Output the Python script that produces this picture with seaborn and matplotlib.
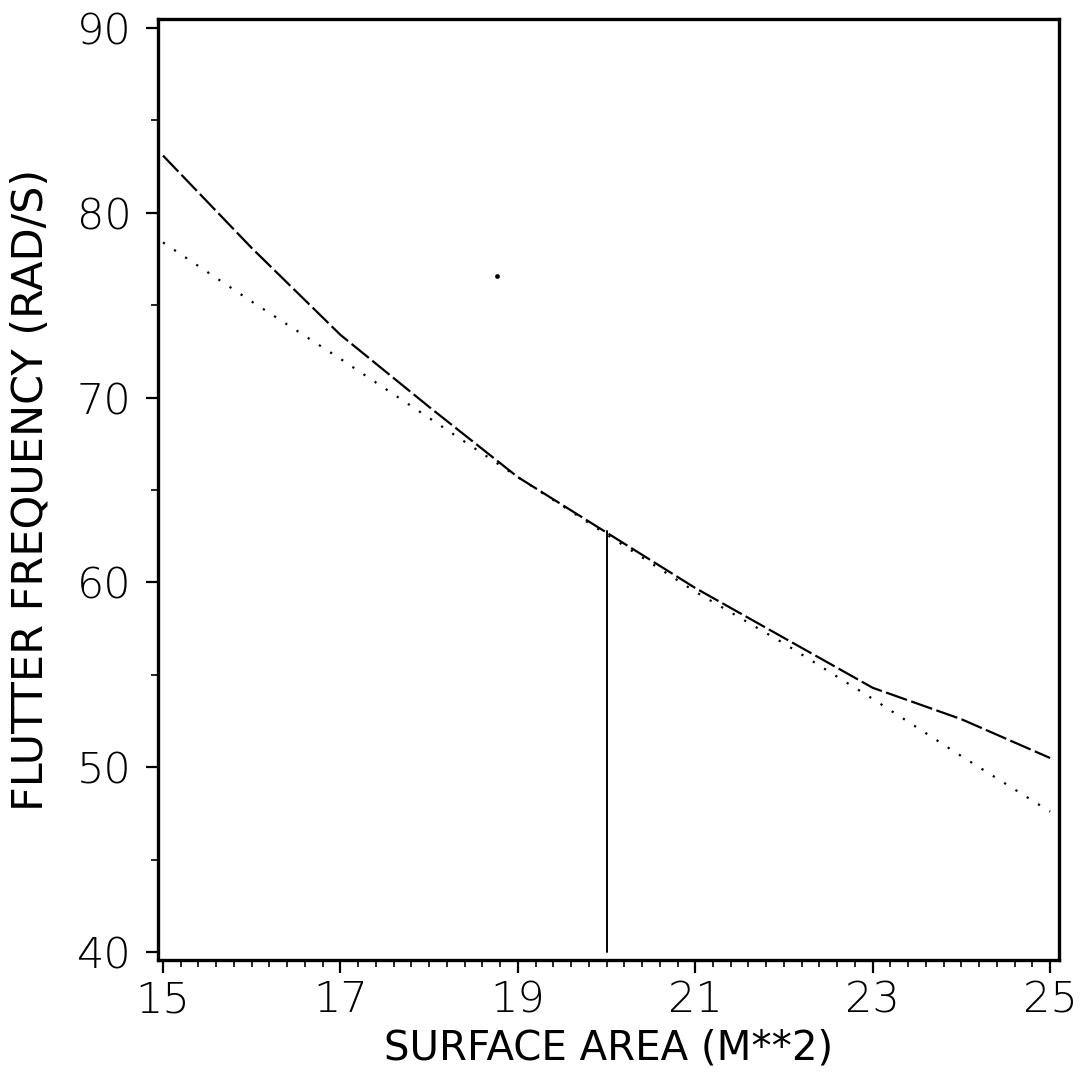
import matplotlib
matplotlib.use("Agg")
import matplotlib.pyplot as plt
import seaborn as sns
import pandas as pd
from matplotlib.ticker import MultipleLocator

# data
surface_area = [15, 16, 17, 18, 19, 20, 21, 22, 23, 24, 25]
freq_dashed = [83.1, 78.1, 73.4, 69.5, 65.7, 62.7, 59.7, 57.0, 54.3, 52.6, 50.5]
freq_dotted = [78.4, 75.2, 72.1, 68.9, 65.7, 62.6, 59.5, 56.7, 53.7, 50.6, 47.6]
marker_x = [20, 20]
marker_y = [40, 62.8]
stray_x = [18.77]
stray_y = [76.6]
x_ticks = [15, 17, 19, 21, 23, 25]
y_ticks = [40, 50, 60, 70, 80, 90]

sns.set_theme(style="white")
plt.rcParams['font.family'] = ['DejaVu Sans']
plt.rcParams['text.color'] = 'black'
plt.rcParams['axes.labelcolor'] = 'black'
plt.rcParams['xtick.color'] = 'black'
plt.rcParams['ytick.color'] = 'black'

df = pd.DataFrame({"area": surface_area, "dashed": freq_dashed, "dotted": freq_dotted})

fig = plt.figure(figsize=(10.84, 10.78), dpi=100)
ax = fig.add_axes([158/1084, 1 - 960/1078, (1059-158)/1084, (960-19)/1078])

sns.lineplot(data=df, x="area", y="dashed", ax=ax, color="black", lw=1.6,
             linestyle=(0, (10, 2)))
sns.lineplot(data=df, x="area", y="dotted", ax=ax, color="black", lw=1.6,
             linestyle=(0, (1, 5)))
sns.lineplot(x=marker_x, y=marker_y, ax=ax, color="black", lw=1.4,
             estimator=None, sort=False, errorbar=None)
sns.scatterplot(x=stray_x, y=stray_y, ax=ax, color="black", s=10, edgecolor="black")

ax.set_xlim(14.944, 25.10)
ax.set_ylim(39.57, 90.49)
ax.set_xticks(x_ticks)
ax.set_yticks(y_ticks)
ax.xaxis.set_minor_locator(MultipleLocator(0.2))
ax.yaxis.set_minor_locator(MultipleLocator(5))
ax.tick_params(axis="both", which="major", direction="out", length=9, width=1.6,
               labelsize=31, pad=5, colors="black", bottom=True, left=True)
ax.tick_params(axis="both", which="minor", direction="out", length=5, width=1.2,
               color="black", bottom=True, left=True)
ax.tick_params(axis="y", pad=10)

for s in ax.spines.values():
    s.set_color("black")
    s.set_linewidth(2.4)

ax.set_xlabel("SURFACE AREA (M**2)", fontsize=29, labelpad=6, color="black")
ax.set_ylabel("FLUTTER FREQUENCY (RAD/S)", fontsize=31, labelpad=18, color="black")
for t in ax.get_xticklabels() + ax.get_yticklabels():
    t.set_fontweight("light")

fig.savefig("out.png", dpi=100)
